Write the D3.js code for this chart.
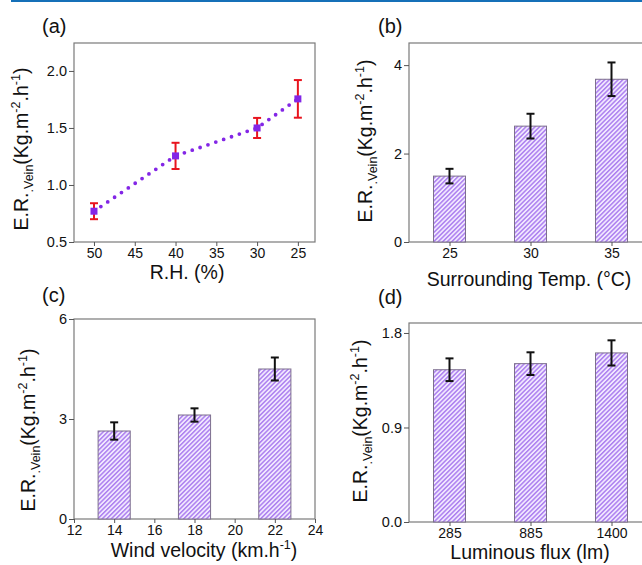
<!DOCTYPE html>
<html>
<head>
<meta charset="utf-8">
<script src="https://cdn.jsdelivr.net/npm/d3@7"></script>
<style>
  body { margin: 0; background: #fff; }
  svg text { font-family: "Liberation Sans", Arial, sans-serif; fill: #111; }
  .tick line, .domain { stroke: #555; }
</style>
</head>
<body>
<div id="chart"></div>
<script>
// (a) relative humidity
var rhLevels = [50, 40, 30, 25];
var rhRate = [0.77, 1.255, 1.50, 1.755];
var rhErr = [0.07, 0.115, 0.088, 0.165];
var rhTicksX = [50, 45, 40, 35, 30, 25];
var rhTicksY = [0.5, 1.0, 1.5, 2.0];

// (b) surrounding temperature
var tempLevels = ["25", "30", "35"];
var tempRate = [1.49, 2.62, 3.68];
var tempErr = [0.165, 0.28, 0.38];
var tempTicksY = [0, 2, 4];

// (c) wind velocity
var windLevels = [14, 18, 22];
var windRate = [2.64, 3.12, 4.50];
var windErr = [0.26, 0.20, 0.345];
var windTicksX = [12, 14, 16, 18, 20, 22, 24];
var windTicksY = [0, 3, 6];

// (d) luminous flux
var fluxLevels = ["285", "885", "1400"];
var fluxRate = [1.45, 1.508, 1.61];
var fluxErr = [0.108, 0.108, 0.12];
var fluxTicksY = [0.0, 0.9, 1.8];

var W = 642, H = 565;
var svg = d3.select("#chart").append("svg")
    .attr("width", W).attr("height", H);

// top rule
svg.append("rect").attr("x", 11).attr("y", 0).attr("width", W - 11).attr("height", 2)
    .attr("fill", "#1570b8");

// hatch for the bars
var defs = svg.append("defs");
var pat = defs.append("pattern").attr("id", "hatch")
    .attr("patternUnits", "userSpaceOnUse")
    .attr("width", 3.2).attr("height", 3.2)
    .attr("patternTransform", "rotate(45)");
pat.append("rect").attr("width", 3.2).attr("height", 3.2).attr("fill", "#f1e8ff");
pat.append("rect").attr("width", 1.5).attr("height", 3.2).attr("fill", "#ad80f0");

function frame(g, x0, x1, y0, y1) {
    g.append("rect")
        .attr("x", x0).attr("y", y0)
        .attr("width", x1 - x0).attr("height", y1 - y0)
        .attr("fill", "none").attr("stroke", "#7a7a7a").attr("stroke-width", 1.2);
}

function axes(g, x, y, xTicks, yTicks, xFmt, yFmt, x0, y1) {
    var ax = d3.axisBottom(x).tickSizeOuter(0).tickSize(4).tickPadding(2);
    if (xTicks) ax.tickValues(xTicks);
    if (xFmt) ax.tickFormat(xFmt);
    var gx = g.append("g").attr("transform", "translate(0," + y1 + ")").call(ax);
    gx.select(".domain").remove();
    gx.selectAll("text").style("font-size", "14px");

    var ay = d3.axisLeft(y).tickValues(yTicks).tickSizeOuter(0).tickSize(5).tickPadding(2);
    if (yFmt) ay.tickFormat(yFmt);
    var gy = g.append("g").attr("transform", "translate(" + x0 + ",0)").call(ay);
    gy.select(".domain").remove();
    gy.selectAll("text").style("font-size", "14.5px");
}

function yTitle(g, x, yc) {
    var t = g.append("text")
        .attr("transform", "translate(" + x + "," + yc + ") rotate(-90)")
        .attr("text-anchor", "middle")
        .style("font-size", "19.5px");
    t.append("tspan").text("E.R.");
    t.append("tspan").text(".Vein").style("font-size", "12.5px").attr("dy", 5);
    t.append("tspan").text("(Kg.m").attr("dy", -5);
    t.append("tspan").text("-2").style("font-size", "12.5px").attr("dy", -8);
    t.append("tspan").text(".h").attr("dy", 8);
    t.append("tspan").text("-1").style("font-size", "12.5px").attr("dy", -8);
    t.append("tspan").text(")").attr("dy", 8);
}

function panelLabel(g, x, y, s) {
    g.append("text").attr("x", x).attr("y", y).text(s).style("font-size", "20px");
}

function errorBars(g, xs, vals, errs, y, color, capW) {
    xs.forEach(function(cx, i) {
        var top = y(vals[i] + errs[i]), bot = y(vals[i] - errs[i]);
        g.append("line").attr("x1", cx).attr("x2", cx).attr("y1", top).attr("y2", bot)
            .attr("stroke", color).attr("stroke-width", 2);
        [top, bot].forEach(function(yy) {
            g.append("line").attr("x1", cx - capW / 2).attr("x2", cx + capW / 2)
                .attr("y1", yy).attr("y2", yy)
                .attr("stroke", color).attr("stroke-width", 2);
        });
    });
}

function bars(g, xs, vals, y, bw) {
    xs.forEach(function(cx, i) {
        g.append("rect")
            .attr("x", cx - bw / 2).attr("y", y(vals[i]))
            .attr("width", bw).attr("height", y(0) - y(vals[i]))
            .attr("fill", "url(#hatch)")
            .attr("stroke", "#7d6f8e").attr("stroke-width", 1);
    });
}

// ---------- (a) ----------
(function() {
    var x0 = 74, x1 = 315, y0 = 43, y1 = 242;
    var g = svg.append("g");
    var x = d3.scaleLinear().domain([52.45, 22.9]).range([x0, x1]);
    var y = d3.scaleLinear().domain([0.5, 2.245]).range([y1, y0]);
    frame(g, x0, x1, y0, y1);
    axes(g, x, y, rhTicksX, rhTicksY, d3.format("d"), d3.format(".1f"), x0, y1);

    var line = d3.line().x(function(d, i) { return x(rhLevels[i]); }).y(function(d) { return y(d); });
    g.append("path").datum(rhRate).attr("d", line)
        .attr("fill", "none").attr("stroke", "#8326e6").attr("stroke-width", 3.8)
        .attr("stroke-linecap", "round").attr("stroke-dasharray", "0 8.3");

    errorBars(g, rhLevels.map(function(v) { return x(v); }), rhRate, rhErr, y, "#e8141e", 8);

    g.selectAll("rect.pt").data(rhRate).enter().append("rect").attr("class", "pt")
        .attr("x", function(d, i) { return x(rhLevels[i]) - 3.5; })
        .attr("y", function(d) { return y(d) - 3.5; })
        .attr("width", 7).attr("height", 7).attr("fill", "#8326e6");

    yTitle(g, 28, 149);
    g.append("text").attr("x", 187).attr("y", 279).attr("text-anchor", "middle")
        .style("font-size", "19.5px").text("R.H. (%)");
    panelLabel(g, 42, 33, "(a)");
})();

// ---------- (b) ----------
(function() {
    var x0 = 409, x1 = 652, y0 = 43, y1 = 242;
    var g = svg.append("g");
    var x = d3.scalePoint().domain(tempLevels).range([x0, x1]).padding(0.5);
    var y = d3.scaleLinear().domain([0, 4.5]).range([y1, y0]);
    frame(g, x0, x1, y0, y1);
    var xs = tempLevels.map(function(c) { return x(c); });
    bars(g, xs, tempRate, y, 32);
    errorBars(g, xs, tempRate, tempErr, y, "#111", 8);
    axes(g, x, y, null, tempTicksY, null, d3.format("d"), x0, y1);

    yTitle(g, 372, 141);
    g.append("text").attr("x", 529).attr("y", 286).attr("text-anchor", "middle")
        .style("font-size", "19.5px").text("Surrounding Temp. (\u00B0C)");
    panelLabel(g, 378, 33, "(b)");
})();

// ---------- (c) ----------
(function() {
    var x0 = 74, x1 = 315, y0 = 319, y1 = 519;
    var g = svg.append("g");
    var x = d3.scaleLinear().domain([12, 24]).range([x0, x1]);
    var y = d3.scaleLinear().domain([0, 6]).range([y1, y0]);
    frame(g, x0, x1, y0, y1);
    var xs = windLevels.map(function(v) { return x(v); });
    bars(g, xs, windRate, y, x(13.6) - x(12));
    errorBars(g, xs, windRate, windErr, y, "#111", 8);
    axes(g, x, y, windTicksX, windTicksY, d3.format("d"), d3.format("d"), x0, y1);

    yTitle(g, 35, 430);
    var t = g.append("text").attr("x", 204).attr("y", 557).attr("text-anchor", "middle")
        .style("font-size", "19.5px");
    t.append("tspan").text("Wind velocity (km.h");
    t.append("tspan").text("-1").style("font-size", "12.5px").attr("dy", -8);
    t.append("tspan").text(")").attr("dy", 8);
    panelLabel(g, 42, 302, "(c)");
})();

// ---------- (d) ----------
(function() {
    var x0 = 409, x1 = 652, y0 = 323, y1 = 522;
    var g = svg.append("g");
    var x = d3.scalePoint().domain(fluxLevels).range([x0, x1]).padding(0.5);
    var y = d3.scaleLinear().domain([0, 1.895]).range([y1, y0]);
    frame(g, x0, x1, y0, y1);
    var xs = fluxLevels.map(function(c) { return x(c); });
    bars(g, xs, fluxRate, y, 32);
    errorBars(g, xs, fluxRate, fluxErr, y, "#111", 8);
    axes(g, x, y, null, fluxTicksY, null, d3.format(".1f"), x0, y1);

    yTitle(g, 367, 421);
    g.append("text").attr("x", 530).attr("y", 559).attr("text-anchor", "middle")
        .style("font-size", "19.5px").text("Luminous flux (lm)");
    panelLabel(g, 378, 304, "(d)");
})();
</script>
</body>
</html>
